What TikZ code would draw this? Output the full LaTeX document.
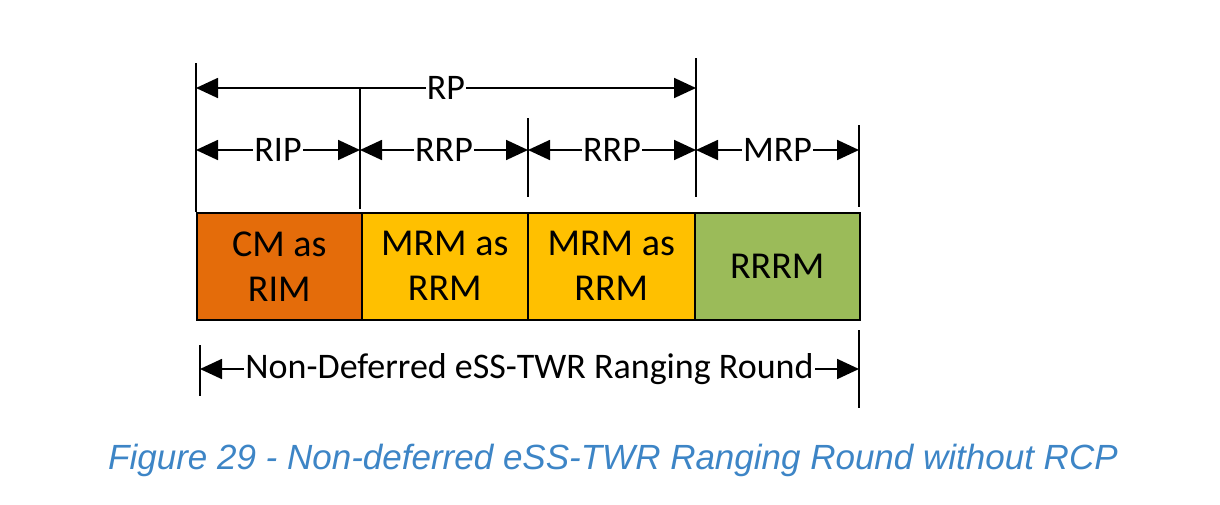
\documentclass[tikz,border=0pt]{standalone}
\usepackage{fontspec}
\setmainfont{Carlito}
\newfontfamily\capfont{Liberation Sans}
\usetikzlibrary{arrows.meta}
\definecolor{corange}{HTML}{E46C0A}
\definecolor{cyellow}{HTML}{FFC000}
\definecolor{cgreen}{HTML}{9BBB59}
\definecolor{cblue}{HTML}{3D85C6}
\begin{document}
\begin{tikzpicture}[x=1pt,y=-1pt,
  seg/.style={draw=black, line width=1.5pt, minimum height=107pt, inner sep=0pt,
    font=\fontsize{38}{45}\selectfont, align=center, anchor=north west},
  dim/.style={line width=1.8pt, {Triangle[length=22pt,width=20pt]}-{Triangle[length=22pt,width=20pt]}},
  tick/.style={line width=1.8pt},
  lab/.style={fill=white, inner sep=1pt, font=\fontsize{36}{40}\selectfont},
  caption/.style={font=\capfont\itshape\fontsize{35}{40}\selectfont, text=cblue}]
\useasboundingbox (0,0) rectangle (1220,504);
% boxes
\node[seg, fill=corange, minimum width=165pt] (b1) at (196,212) {CM as\\RIM};
\node[seg, fill=cyellow, minimum width=166pt] (b2) at (361,212) {MRM as\\RRM};
\node[seg, fill=cyellow, minimum width=167pt] (b3) at (527,212) {MRM as\\RRM};
\node[seg, fill=cgreen, minimum width=165pt] (b4) at (694,212) {RRRM};
% vertical ticks
\coordinate (t0a) at (196,63);
\coordinate (t1a) at (360,88);  \coordinate (t1b) at (360,209);
\coordinate (t2a) at (528,118); \coordinate (t2b) at (528,197);
\coordinate (t3a) at (696,58);  \coordinate (t3b) at (696,197);
\coordinate (t4a) at (859,125); \coordinate (t4b) at (859,207);
\draw[tick] (t0a) -- (b1.north west);
\draw[tick] (t1a) -- (t1b);
\draw[tick] (t2a) -- (t2b);
\draw[tick] (t3a) -- (t3b);
\draw[tick] (t4a) -- (t4b);
% RP
\coordinate (rp0) at (196,88); \coordinate (rp1) at (696,88);
\draw[dim] (rp0) -- node[lab] (lrp) {RP} (rp1);
% second row
\coordinate (r0) at (196,150); \coordinate (r1) at (360,150);
\coordinate (r2) at (528,150); \coordinate (r3) at (696,150);
\coordinate (r4) at (859,150);
\draw[dim] (r0) -- node[lab] (lrip) {RIP} (r1);
\draw[dim] (r1) -- node[lab] (lrrp1) {RRP} (r2);
\draw[dim] (r2) -- node[lab] (lrrp2) {RRP} (r3);
\draw[dim] (r3) -- node[lab] (lmrp) {MRP} (r4);
% bottom
\coordinate (u0a) at (200,345); \coordinate (u0b) at (200,396);
\coordinate (u1a) at (859,330); \coordinate (u1b) at (859,408);
\draw[tick] (u0a) -- (u0b);
\draw[tick] (u1a) -- (u1b);
\coordinate (w0) at (200,369); \coordinate (w1) at (859,369);
\draw[dim] (w0) -- node[lab] (lround) {Non-Deferred eSS-TWR Ranging Round} (w1);
% caption
\node[caption] (cap) at (613,460) {Figure 29 - Non-deferred eSS-TWR Ranging Round without RCP};
\end{tikzpicture}
\end{document}
